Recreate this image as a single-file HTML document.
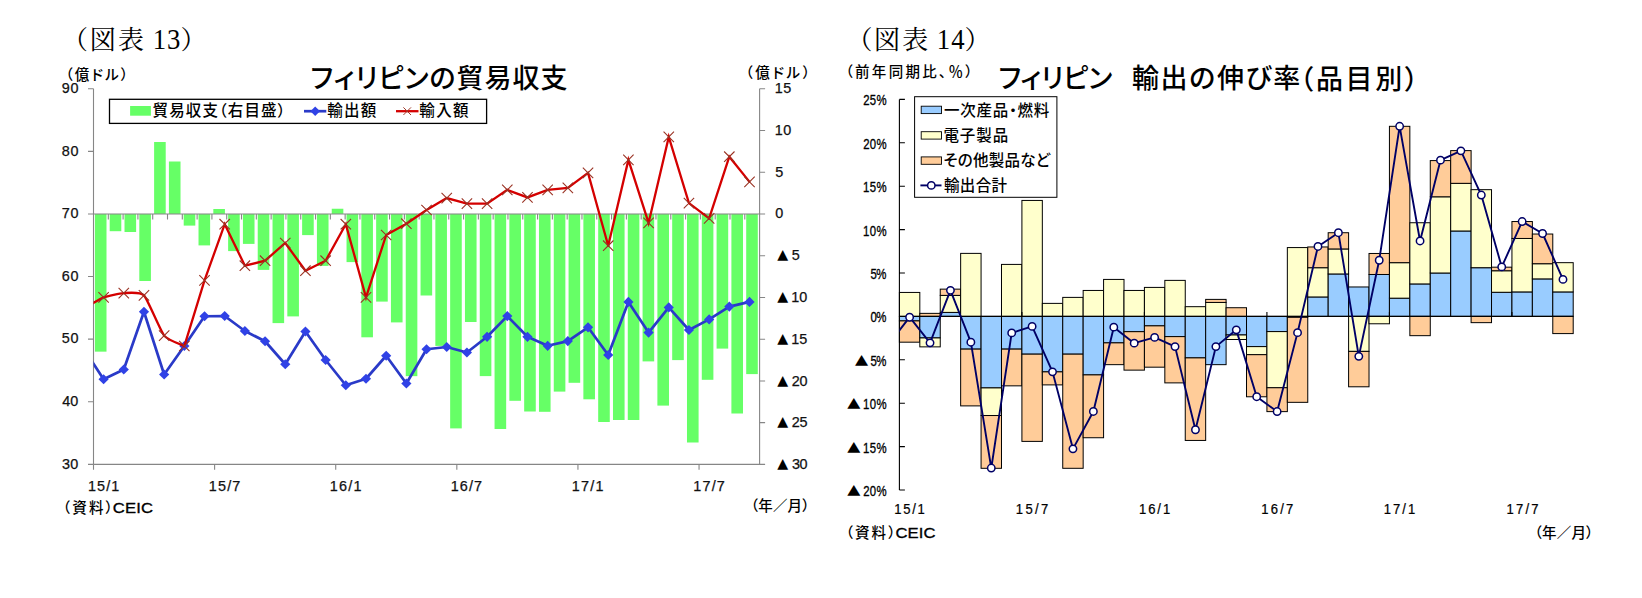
<!DOCTYPE html>
<html lang="ja"><head><meta charset="utf-8"><title>フィリピンの貿易収支・輸出の伸び率</title>
<style>html,body{margin:0;padding:0;background:#fff}body{width:1642px;height:598px;overflow:hidden}svg{display:block}text{white-space:pre}.p{font-feature-settings:"palt" 1}</style></head><body>
<svg width="1642" height="598" viewBox="0 0 1642 598">
<rect width="1642" height="598" fill="#fff"/>
<defs><clipPath id="lc"><rect x="93.5" y="80" width="666.1" height="390"/></clipPath></defs>
<g id="left-chart">
<g fill="#66ff66">
<rect x="94.9" y="213.95" width="11.6" height="137.7"/>
<rect x="109.7" y="213.95" width="11.6" height="17.25"/>
<rect x="124.51" y="213.95" width="11.6" height="18.05"/>
<rect x="139.31" y="213.95" width="11.6" height="67.05"/>
<rect x="154.11" y="142" width="11.6" height="71.95"/>
<rect x="168.91" y="161.5" width="11.6" height="52.45"/>
<rect x="183.71" y="213.95" width="11.6" height="11.65"/>
<rect x="198.52" y="213.95" width="11.6" height="31.45"/>
<rect x="213.32" y="209" width="11.6" height="4.95"/>
<rect x="228.12" y="213.95" width="11.6" height="37.15"/>
<rect x="242.92" y="213.95" width="11.6" height="29.95"/>
<rect x="257.73" y="213.95" width="11.6" height="55.95"/>
<rect x="272.53" y="213.95" width="11.6" height="109.15"/>
<rect x="287.33" y="213.95" width="11.6" height="102.45"/>
<rect x="302.13" y="213.95" width="11.6" height="21.15"/>
<rect x="316.93" y="213.95" width="11.6" height="51.95"/>
<rect x="331.74" y="208.75" width="11.6" height="5.2"/>
<rect x="346.54" y="213.95" width="11.6" height="48.15"/>
<rect x="361.34" y="213.95" width="11.6" height="123.35"/>
<rect x="376.14" y="213.95" width="11.6" height="87.65"/>
<rect x="390.95" y="213.95" width="11.6" height="108.45"/>
<rect x="405.75" y="213.95" width="11.6" height="162.2"/>
<rect x="420.55" y="213.95" width="11.6" height="81.55"/>
<rect x="435.35" y="213.95" width="11.6" height="131.95"/>
<rect x="450.15" y="213.95" width="11.6" height="214.45"/>
<rect x="464.96" y="213.95" width="11.6" height="108.05"/>
<rect x="479.76" y="213.95" width="11.6" height="162.15"/>
<rect x="494.56" y="213.95" width="11.6" height="215.05"/>
<rect x="509.36" y="213.95" width="11.6" height="186.85"/>
<rect x="524.17" y="213.95" width="11.6" height="197.55"/>
<rect x="538.97" y="213.95" width="11.6" height="197.85"/>
<rect x="553.77" y="213.95" width="11.6" height="177.65"/>
<rect x="568.57" y="213.95" width="11.6" height="168.85"/>
<rect x="583.37" y="213.95" width="11.6" height="185.35"/>
<rect x="598.18" y="213.95" width="11.6" height="208.05"/>
<rect x="612.98" y="213.95" width="11.6" height="206.05"/>
<rect x="627.78" y="213.95" width="11.6" height="206.05"/>
<rect x="642.58" y="213.95" width="11.6" height="147.45"/>
<rect x="657.39" y="213.95" width="11.6" height="191.65"/>
<rect x="672.19" y="213.95" width="11.6" height="146.15"/>
<rect x="686.99" y="213.95" width="11.6" height="228.55"/>
<rect x="701.79" y="213.95" width="11.6" height="165.85"/>
<rect x="716.59" y="213.95" width="11.6" height="134.65"/>
<rect x="731.4" y="213.95" width="11.6" height="199.55"/>
<rect x="746.2" y="213.95" width="11.6" height="160.15"/>
</g>
<g stroke="#868686" stroke-width="1.1" fill="none">
<path d="M93.5,88.75 V464.35"/>
<path d="M759.6,88.75 V464.35"/>
<path d="M93.5,464.35 H765.1"/>
<path d="M88,213.95 H765.1"/>
<path d="M88,88.75 H93.5M88,151.35 H93.5M88,276.55 H93.5M88,339.15 H93.5M88,401.75 H93.5M88,464.35 H93.5M759.6,88.75 H765.1M759.6,130.5 H765.1M759.6,172.3 H765.1M759.6,255.8 H765.1M759.6,297.5 H765.1M759.6,339.2 H765.1M759.6,381 H765.1M759.6,422.6 H765.1M88,464.35 H93.5M93.5,464.35 V469.85M214.61,464.35 V469.85M335.72,464.35 V469.85M456.83,464.35 V469.85M577.94,464.35 V469.85M699.05,464.35 V469.85M108.3,213.95 V219.45M123.1,213.95 V219.45M137.91,213.95 V219.45M152.71,213.95 V219.45M167.51,213.95 V219.45M182.31,213.95 V219.45M197.12,213.95 V219.45M211.92,213.95 V219.45M226.72,213.95 V219.45M241.52,213.95 V219.45M256.32,213.95 V219.45M271.13,213.95 V219.45M285.93,213.95 V219.45M300.73,213.95 V219.45M315.53,213.95 V219.45M330.34,213.95 V219.45M345.14,213.95 V219.45M359.94,213.95 V219.45M374.74,213.95 V219.45M389.54,213.95 V219.45M404.35,213.95 V219.45M419.15,213.95 V219.45M433.95,213.95 V219.45M448.75,213.95 V219.45M463.56,213.95 V219.45M478.36,213.95 V219.45M493.16,213.95 V219.45M507.96,213.95 V219.45M522.76,213.95 V219.45M537.57,213.95 V219.45M552.37,213.95 V219.45M567.17,213.95 V219.45M581.97,213.95 V219.45M596.78,213.95 V219.45M611.58,213.95 V219.45M626.38,213.95 V219.45M641.18,213.95 V219.45M655.98,213.95 V219.45M670.79,213.95 V219.45M685.59,213.95 V219.45M700.39,213.95 V219.45M715.19,213.95 V219.45M730,213.95 V219.45M744.8,213.95 V219.45"/>
</g>
<g clip-path="url(#lc)">
<path d="M83.41,348.25 L103.59,379.25 L123.78,369.5 L143.96,311.75 L164.15,374.5 L184.33,346 L204.52,316.25 L224.7,316 L244.89,331 L265.07,341.25 L285.26,364.25 L305.44,331.5 L325.63,360 L345.81,385.25 L366,378.75 L386.18,355.75 L406.37,383.5 L426.55,349.25 L446.73,347 L466.92,352.5 L487.1,336.8 L507.29,316.1 L527.47,336.8 L547.66,345.8 L567.84,341.1 L588.03,327.3 L608.21,355 L628.4,301.9 L648.58,332.6 L668.77,307.4 L688.95,330 L709.14,319.4 L729.32,306.6 L749.51,301.9" fill="none" stroke="#2a3ac8" stroke-width="2.7" stroke-linejoin="round"/>
<g fill="#3042e6">
<path d="M103.59,374.15 l5.1,5.1 l-5.1,5.1 l-5.1,-5.1z"/>
<path d="M123.78,364.4 l5.1,5.1 l-5.1,5.1 l-5.1,-5.1z"/>
<path d="M143.96,306.65 l5.1,5.1 l-5.1,5.1 l-5.1,-5.1z"/>
<path d="M164.15,369.4 l5.1,5.1 l-5.1,5.1 l-5.1,-5.1z"/>
<path d="M184.33,340.9 l5.1,5.1 l-5.1,5.1 l-5.1,-5.1z"/>
<path d="M204.52,311.15 l5.1,5.1 l-5.1,5.1 l-5.1,-5.1z"/>
<path d="M224.7,310.9 l5.1,5.1 l-5.1,5.1 l-5.1,-5.1z"/>
<path d="M244.89,325.9 l5.1,5.1 l-5.1,5.1 l-5.1,-5.1z"/>
<path d="M265.07,336.15 l5.1,5.1 l-5.1,5.1 l-5.1,-5.1z"/>
<path d="M285.26,359.15 l5.1,5.1 l-5.1,5.1 l-5.1,-5.1z"/>
<path d="M305.44,326.4 l5.1,5.1 l-5.1,5.1 l-5.1,-5.1z"/>
<path d="M325.63,354.9 l5.1,5.1 l-5.1,5.1 l-5.1,-5.1z"/>
<path d="M345.81,380.15 l5.1,5.1 l-5.1,5.1 l-5.1,-5.1z"/>
<path d="M366,373.65 l5.1,5.1 l-5.1,5.1 l-5.1,-5.1z"/>
<path d="M386.18,350.65 l5.1,5.1 l-5.1,5.1 l-5.1,-5.1z"/>
<path d="M406.37,378.4 l5.1,5.1 l-5.1,5.1 l-5.1,-5.1z"/>
<path d="M426.55,344.15 l5.1,5.1 l-5.1,5.1 l-5.1,-5.1z"/>
<path d="M446.73,341.9 l5.1,5.1 l-5.1,5.1 l-5.1,-5.1z"/>
<path d="M466.92,347.4 l5.1,5.1 l-5.1,5.1 l-5.1,-5.1z"/>
<path d="M487.1,331.7 l5.1,5.1 l-5.1,5.1 l-5.1,-5.1z"/>
<path d="M507.29,311 l5.1,5.1 l-5.1,5.1 l-5.1,-5.1z"/>
<path d="M527.47,331.7 l5.1,5.1 l-5.1,5.1 l-5.1,-5.1z"/>
<path d="M547.66,340.7 l5.1,5.1 l-5.1,5.1 l-5.1,-5.1z"/>
<path d="M567.84,336 l5.1,5.1 l-5.1,5.1 l-5.1,-5.1z"/>
<path d="M588.03,322.2 l5.1,5.1 l-5.1,5.1 l-5.1,-5.1z"/>
<path d="M608.21,349.9 l5.1,5.1 l-5.1,5.1 l-5.1,-5.1z"/>
<path d="M628.4,296.8 l5.1,5.1 l-5.1,5.1 l-5.1,-5.1z"/>
<path d="M648.58,327.5 l5.1,5.1 l-5.1,5.1 l-5.1,-5.1z"/>
<path d="M668.77,302.3 l5.1,5.1 l-5.1,5.1 l-5.1,-5.1z"/>
<path d="M688.95,324.9 l5.1,5.1 l-5.1,5.1 l-5.1,-5.1z"/>
<path d="M709.14,314.3 l5.1,5.1 l-5.1,5.1 l-5.1,-5.1z"/>
<path d="M729.32,301.5 l5.1,5.1 l-5.1,5.1 l-5.1,-5.1z"/>
<path d="M749.51,296.8 l5.1,5.1 l-5.1,5.1 l-5.1,-5.1z"/>
</g>
<path d="M83.41,308.8C85.24,307.76 99.92,298.83 103.59,297.4C107.26,295.97 120.11,293.28 123.78,293.1C127.45,292.92 140.29,291.54 143.96,295.4C147.63,299.26 160.48,331 164.15,335.6C167.82,340.2 182.5,345.05 184.33,346 L204.52,280.4 L224.7,224.2 L244.89,265.7 L265.07,260.7 L285.26,243 L305.44,270.7 L325.63,260.7 L345.81,224.2 L366,297.4 L386.18,235 L406.37,223.7 L426.55,210 L446.73,198.1 L466.92,203.6 L487.1,203.6 L507.29,189.9 L527.47,197.4 L547.66,189.9 L567.84,187.9 L588.03,172.9 L608.21,245.7 L628.4,159.9 L648.58,222.9 L668.77,136.9 L688.95,203.1 L709.14,218.4 L729.32,156.7 L749.51,181.9" fill="none" stroke="#d40000" stroke-width="2.3" stroke-linejoin="miter"/>
<path d="M98.39,292.2 l10.4,10.4M108.79,292.2 l-10.4,10.4M118.58,287.9 l10.4,10.4M128.98,287.9 l-10.4,10.4M138.76,290.2 l10.4,10.4M149.16,290.2 l-10.4,10.4M158.95,330.4 l10.4,10.4M169.35,330.4 l-10.4,10.4M179.13,340.8 l10.4,10.4M189.53,340.8 l-10.4,10.4M199.32,275.2 l10.4,10.4M209.72,275.2 l-10.4,10.4M219.5,219 l10.4,10.4M229.9,219 l-10.4,10.4M239.69,260.5 l10.4,10.4M250.09,260.5 l-10.4,10.4M259.87,255.5 l10.4,10.4M270.27,255.5 l-10.4,10.4M280.06,237.8 l10.4,10.4M290.46,237.8 l-10.4,10.4M300.24,265.5 l10.4,10.4M310.64,265.5 l-10.4,10.4M320.43,255.5 l10.4,10.4M330.83,255.5 l-10.4,10.4M340.61,219 l10.4,10.4M351.01,219 l-10.4,10.4M360.8,292.2 l10.4,10.4M371.2,292.2 l-10.4,10.4M380.98,229.8 l10.4,10.4M391.38,229.8 l-10.4,10.4M401.17,218.5 l10.4,10.4M411.57,218.5 l-10.4,10.4M421.35,204.8 l10.4,10.4M431.75,204.8 l-10.4,10.4M441.53,192.9 l10.4,10.4M451.93,192.9 l-10.4,10.4M461.72,198.4 l10.4,10.4M472.12,198.4 l-10.4,10.4M481.9,198.4 l10.4,10.4M492.3,198.4 l-10.4,10.4M502.09,184.7 l10.4,10.4M512.49,184.7 l-10.4,10.4M522.27,192.2 l10.4,10.4M532.67,192.2 l-10.4,10.4M542.46,184.7 l10.4,10.4M552.86,184.7 l-10.4,10.4M562.64,182.7 l10.4,10.4M573.04,182.7 l-10.4,10.4M582.83,167.7 l10.4,10.4M593.23,167.7 l-10.4,10.4M603.01,240.5 l10.4,10.4M613.41,240.5 l-10.4,10.4M623.2,154.7 l10.4,10.4M633.6,154.7 l-10.4,10.4M643.38,217.7 l10.4,10.4M653.78,217.7 l-10.4,10.4M663.57,131.7 l10.4,10.4M673.97,131.7 l-10.4,10.4M683.75,197.9 l10.4,10.4M694.15,197.9 l-10.4,10.4M703.94,213.2 l10.4,10.4M714.34,213.2 l-10.4,10.4M724.12,151.5 l10.4,10.4M734.52,151.5 l-10.4,10.4M744.31,176.7 l10.4,10.4M754.71,176.7 l-10.4,10.4" fill="none" stroke="#9a3324" stroke-width="1.1"/>
</g>
<rect x="109.5" y="99.3" width="377.1" height="24.1" fill="#fff" stroke="#000" stroke-width="1.3"/>
<rect x="130.1" y="106" width="20.8" height="9.7" fill="#66ff66"/>
<path d="M304,111.2 H326.3" stroke="#2a3ac8" stroke-width="2.7"/>
<path d="M315.2,106.4 l4.8,4.8 l-4.8,4.8 l-4.8,-4.8z" fill="#3042e6"/>
<path d="M396,111.2 H418.5" stroke="#d40000" stroke-width="2.3"/>
<path d="M403.4,107.4 l7.6,7.6 M411,107.4 l-7.6,7.6" stroke="#a03a2a" stroke-width="1" fill="none"/>
</g>
<defs><clipPath id="rc"><rect x="899.4" y="90" width="700" height="410"/></clipPath></defs>
<g id="right-chart">
<g stroke="#000" stroke-width="1">
<rect x="899.4" y="316.4" width="20.42" height="4.51" fill="#99ccff"/>
<rect x="899.4" y="292.44" width="20.42" height="23.96" fill="#ffffcc"/>
<rect x="899.4" y="320.91" width="20.42" height="21.27" fill="#ffcc99"/>
<rect x="919.82" y="316.4" width="20.42" height="21.53" fill="#99ccff"/>
<rect x="919.82" y="337.93" width="20.42" height="8.94" fill="#ffffcc"/>
<rect x="919.82" y="313.36" width="20.42" height="3.04" fill="#ffcc99"/>
<rect x="940.24" y="312.41" width="20.42" height="3.99" fill="#99ccff"/>
<rect x="940.24" y="295.39" width="20.42" height="17.01" fill="#ffffcc"/>
<rect x="940.24" y="289.14" width="20.42" height="6.25" fill="#ffcc99"/>
<rect x="960.65" y="316.4" width="20.42" height="32.72" fill="#99ccff"/>
<rect x="960.65" y="253.38" width="20.42" height="63.02" fill="#ffffcc"/>
<rect x="960.65" y="349.12" width="20.42" height="56.77" fill="#ffcc99"/>
<rect x="981.07" y="316.4" width="20.42" height="71.52" fill="#99ccff"/>
<rect x="981.07" y="387.92" width="20.42" height="27.6" fill="#ffffcc"/>
<rect x="981.07" y="415.53" width="20.42" height="52.77" fill="#ffcc99"/>
<rect x="1001.49" y="316.4" width="20.42" height="32.72" fill="#99ccff"/>
<rect x="1001.49" y="264.41" width="20.42" height="51.99" fill="#ffffcc"/>
<rect x="1001.49" y="349.12" width="20.42" height="36.72" fill="#ffcc99"/>
<rect x="1021.91" y="316.4" width="20.42" height="37.76" fill="#99ccff"/>
<rect x="1021.91" y="200.44" width="20.42" height="115.96" fill="#ffffcc"/>
<rect x="1021.91" y="354.16" width="20.42" height="87.23" fill="#ffcc99"/>
<rect x="1042.33" y="316.4" width="20.42" height="55.47" fill="#99ccff"/>
<rect x="1042.33" y="303.38" width="20.42" height="13.02" fill="#ffffcc"/>
<rect x="1042.33" y="371.87" width="20.42" height="13.02" fill="#ffcc99"/>
<rect x="1062.74" y="316.4" width="20.42" height="37.76" fill="#99ccff"/>
<rect x="1062.74" y="297.39" width="20.42" height="19.01" fill="#ffffcc"/>
<rect x="1062.74" y="354.16" width="20.42" height="114.14" fill="#ffcc99"/>
<rect x="1083.16" y="316.4" width="20.42" height="58.5" fill="#99ccff"/>
<rect x="1083.16" y="290.45" width="20.42" height="25.95" fill="#ffffcc"/>
<rect x="1083.16" y="374.9" width="20.42" height="62.84" fill="#ffcc99"/>
<rect x="1103.58" y="316.4" width="20.42" height="26.47" fill="#99ccff"/>
<rect x="1103.58" y="279.42" width="20.42" height="36.98" fill="#ffffcc"/>
<rect x="1103.58" y="342.87" width="20.42" height="21.79" fill="#ffcc99"/>
<rect x="1124" y="316.4" width="20.42" height="15.28" fill="#99ccff"/>
<rect x="1124" y="290.45" width="20.42" height="25.95" fill="#ffffcc"/>
<rect x="1124" y="331.68" width="20.42" height="38.45" fill="#ffcc99"/>
<rect x="1144.42" y="316.4" width="20.42" height="9.46" fill="#99ccff"/>
<rect x="1144.42" y="287.41" width="20.42" height="28.99" fill="#ffffcc"/>
<rect x="1144.42" y="325.86" width="20.42" height="41.32" fill="#ffcc99"/>
<rect x="1164.83" y="316.4" width="20.42" height="20.22" fill="#99ccff"/>
<rect x="1164.83" y="280.38" width="20.42" height="36.02" fill="#ffffcc"/>
<rect x="1164.83" y="336.62" width="20.42" height="46.26" fill="#ffcc99"/>
<rect x="1185.25" y="316.4" width="20.42" height="41.49" fill="#99ccff"/>
<rect x="1185.25" y="306.68" width="20.42" height="9.72" fill="#ffffcc"/>
<rect x="1185.25" y="357.89" width="20.42" height="82.55" fill="#ffcc99"/>
<rect x="1205.67" y="316.4" width="20.42" height="48.26" fill="#99ccff"/>
<rect x="1205.67" y="302.43" width="20.42" height="13.97" fill="#ffffcc"/>
<rect x="1205.67" y="299.39" width="20.42" height="3.04" fill="#ffcc99"/>
<rect x="1226.09" y="316.4" width="20.42" height="18.58" fill="#99ccff"/>
<rect x="1226.09" y="334.98" width="20.42" height="4.51" fill="#ffffcc"/>
<rect x="1226.09" y="307.72" width="20.42" height="8.68" fill="#ffcc99"/>
<rect x="1246.51" y="316.4" width="20.42" height="30.21" fill="#99ccff"/>
<rect x="1246.51" y="346.61" width="20.42" height="8.07" fill="#ffffcc"/>
<rect x="1246.51" y="354.68" width="20.42" height="42.1" fill="#ffcc99"/>
<rect x="1266.92" y="316.4" width="20.42" height="15.19" fill="#99ccff"/>
<rect x="1266.92" y="331.59" width="20.42" height="56.16" fill="#ffffcc"/>
<rect x="1266.92" y="387.75" width="20.42" height="23.87" fill="#ffcc99"/>
<rect x="1287.34" y="316.4" width="20.42" height="0.87" fill="#99ccff"/>
<rect x="1287.34" y="247.57" width="20.42" height="68.83" fill="#ffffcc"/>
<rect x="1287.34" y="317.27" width="20.42" height="85.06" fill="#ffcc99"/>
<rect x="1307.76" y="296.96" width="20.42" height="19.44" fill="#99ccff"/>
<rect x="1307.76" y="267.71" width="20.42" height="29.25" fill="#ffffcc"/>
<rect x="1307.76" y="246.96" width="20.42" height="20.75" fill="#ffcc99"/>
<rect x="1328.18" y="273.95" width="20.42" height="42.45" fill="#99ccff"/>
<rect x="1328.18" y="248.96" width="20.42" height="25" fill="#ffffcc"/>
<rect x="1328.18" y="232.72" width="20.42" height="16.23" fill="#ffcc99"/>
<rect x="1348.6" y="286.97" width="20.42" height="29.43" fill="#99ccff"/>
<rect x="1348.6" y="316.4" width="20.42" height="34.98" fill="#ffffcc"/>
<rect x="1348.6" y="351.38" width="20.42" height="35.41" fill="#ffcc99"/>
<rect x="1369.01" y="274.48" width="20.42" height="41.92" fill="#99ccff"/>
<rect x="1369.01" y="316.4" width="20.42" height="7.38" fill="#ffffcc"/>
<rect x="1369.01" y="253.47" width="20.42" height="21.01" fill="#ffcc99"/>
<rect x="1389.43" y="298.17" width="20.42" height="18.23" fill="#99ccff"/>
<rect x="1389.43" y="262.67" width="20.42" height="35.5" fill="#ffffcc"/>
<rect x="1389.43" y="126.31" width="20.42" height="136.36" fill="#ffcc99"/>
<rect x="1409.85" y="283.94" width="20.42" height="32.46" fill="#99ccff"/>
<rect x="1409.85" y="222.74" width="20.42" height="61.19" fill="#ffffcc"/>
<rect x="1409.85" y="316.4" width="20.42" height="19.27" fill="#ffcc99"/>
<rect x="1430.27" y="273" width="20.42" height="43.4" fill="#99ccff"/>
<rect x="1430.27" y="196.79" width="20.42" height="76.21" fill="#ffffcc"/>
<rect x="1430.27" y="160.59" width="20.42" height="36.2" fill="#ffcc99"/>
<rect x="1450.69" y="230.99" width="20.42" height="85.41" fill="#99ccff"/>
<rect x="1450.69" y="183.34" width="20.42" height="47.65" fill="#ffffcc"/>
<rect x="1450.69" y="150.61" width="20.42" height="32.72" fill="#ffcc99"/>
<rect x="1471.1" y="267.71" width="20.42" height="48.69" fill="#99ccff"/>
<rect x="1471.1" y="189.67" width="20.42" height="78.03" fill="#ffffcc"/>
<rect x="1471.1" y="316.4" width="20.42" height="6.25" fill="#ffcc99"/>
<rect x="1491.52" y="292.27" width="20.42" height="24.13" fill="#99ccff"/>
<rect x="1491.52" y="270.74" width="20.42" height="21.53" fill="#ffffcc"/>
<rect x="1491.52" y="267.18" width="20.42" height="3.56" fill="#ffcc99"/>
<rect x="1511.94" y="291.92" width="20.42" height="24.48" fill="#99ccff"/>
<rect x="1511.94" y="238.45" width="20.42" height="53.47" fill="#ffffcc"/>
<rect x="1511.94" y="221.53" width="20.42" height="16.93" fill="#ffcc99"/>
<rect x="1532.36" y="278.9" width="20.42" height="37.5" fill="#99ccff"/>
<rect x="1532.36" y="263.71" width="20.42" height="15.19" fill="#ffffcc"/>
<rect x="1532.36" y="234.03" width="20.42" height="29.69" fill="#ffcc99"/>
<rect x="1552.78" y="291.92" width="20.42" height="24.48" fill="#99ccff"/>
<rect x="1552.78" y="262.67" width="20.42" height="29.25" fill="#ffffcc"/>
<rect x="1552.78" y="316.4" width="20.42" height="17.19" fill="#ffcc99"/>
</g>
<path d="M899.4,99.4 V490M899.4,99.4 H904.9M899.4,142.8 H904.9M899.4,186.2 H904.9M899.4,229.6 H904.9M899.4,273 H904.9M899.4,316.4 H904.9M899.4,359.8 H904.9M899.4,403.2 H904.9M899.4,446.6 H904.9M899.4,490 H904.9M899.4,316.4 H1573.19M1021.91,316.4 V311.9M1144.42,316.4 V311.9M1266.92,316.4 V311.9M1389.43,316.4 V311.9M1511.94,316.4 V311.9" fill="none" stroke="#000" stroke-width="1.1"/>
<g clip-path="url(#rc)">
<path d="M889.19,343.57 L909.61,317.18 L930.03,342.87 L950.44,290.36 L970.86,342.18 L991.28,468.04 L1011.7,332.89 L1032.12,326.38 L1052.53,371.87 L1072.95,448.86 L1093.37,411.45 L1113.79,327.16 L1134.21,343.13 L1154.62,337.41 L1175.04,346.61 L1195.46,429.76 L1215.88,346.61 L1236.3,329.85 L1256.71,396.69 L1277.13,411.53 L1297.55,332.63 L1317.97,246.44 L1338.39,232.72 L1358.8,356.33 L1379.22,260.24 L1399.64,126.31 L1420.06,240.97 L1440.48,160.16 L1460.89,150.87 L1481.31,195.05 L1501.73,266.92 L1522.15,221.53 L1542.57,233.51 L1562.98,279.42" fill="none" stroke="#000066" stroke-width="1.9" stroke-linejoin="round"/>
<g fill="#fff" stroke="#000066" stroke-width="1.5">
<circle cx="909.61" cy="317.18" r="3.7"/>
<circle cx="930.03" cy="342.87" r="3.7"/>
<circle cx="950.44" cy="290.36" r="3.7"/>
<circle cx="970.86" cy="342.18" r="3.7"/>
<circle cx="991.28" cy="468.04" r="3.7"/>
<circle cx="1011.7" cy="332.89" r="3.7"/>
<circle cx="1032.12" cy="326.38" r="3.7"/>
<circle cx="1052.53" cy="371.87" r="3.7"/>
<circle cx="1072.95" cy="448.86" r="3.7"/>
<circle cx="1093.37" cy="411.45" r="3.7"/>
<circle cx="1113.79" cy="327.16" r="3.7"/>
<circle cx="1134.21" cy="343.13" r="3.7"/>
<circle cx="1154.62" cy="337.41" r="3.7"/>
<circle cx="1175.04" cy="346.61" r="3.7"/>
<circle cx="1195.46" cy="429.76" r="3.7"/>
<circle cx="1215.88" cy="346.61" r="3.7"/>
<circle cx="1236.3" cy="329.85" r="3.7"/>
<circle cx="1256.71" cy="396.69" r="3.7"/>
<circle cx="1277.13" cy="411.53" r="3.7"/>
<circle cx="1297.55" cy="332.63" r="3.7"/>
<circle cx="1317.97" cy="246.44" r="3.7"/>
<circle cx="1338.39" cy="232.72" r="3.7"/>
<circle cx="1358.8" cy="356.33" r="3.7"/>
<circle cx="1379.22" cy="260.24" r="3.7"/>
<circle cx="1399.64" cy="126.31" r="3.7"/>
<circle cx="1420.06" cy="240.97" r="3.7"/>
<circle cx="1440.48" cy="160.16" r="3.7"/>
<circle cx="1460.89" cy="150.87" r="3.7"/>
<circle cx="1481.31" cy="195.05" r="3.7"/>
<circle cx="1501.73" cy="266.92" r="3.7"/>
<circle cx="1522.15" cy="221.53" r="3.7"/>
<circle cx="1542.57" cy="233.51" r="3.7"/>
<circle cx="1562.98" cy="279.42" r="3.7"/>
</g></g>
<rect x="914.6" y="96.7" width="142.3" height="100.6" fill="#fff" stroke="#000" stroke-width="1"/>
<rect x="921.2" y="106.2" width="20.3" height="7.4" fill="#99ccff" stroke="#000" stroke-width="0.9"/>
<rect x="921.2" y="131.7" width="20.3" height="7.4" fill="#ffffcc" stroke="#000" stroke-width="0.9"/>
<rect x="921.2" y="156.9" width="20.3" height="7.4" fill="#ffcc99" stroke="#000" stroke-width="0.9"/>
<path d="M920.4,185.4 H941.5" stroke="#000066" stroke-width="1.9"/>
<circle cx="931.3" cy="185.4" r="3.7" fill="#fff" stroke="#000066" stroke-width="1.5"/>
</g>
<g id="labels">
<text x="74.5" y="48.55" font-size="26" font-family="'Liberation Serif','Noto Serif CJK SC',serif" fill="#000" class="p" textLength="69.57" lengthAdjust="spacing">（図表</text>
<text transform="translate(152.75 48.6) scale(0.92 1)" font-size="29" font-family="'Liberation Serif','Noto Serif CJK SC',serif" fill="#000" textLength="30.04" lengthAdjust="spacing">13</text>
<text x="181.05" y="48.55" font-size="26" font-family="'Liberation Serif','Noto Serif CJK SC',serif" fill="#000" class="p">）</text>
<text x="65.5" y="79.78" font-size="14.5" font-family="'Liberation Sans','Noto Sans CJK JP',sans-serif" fill="#000" font-weight="500" class="p" textLength="62.56" lengthAdjust="spacing">（億ドル）</text>
<text x="745.4" y="78.08" font-size="14.5" font-family="'Liberation Sans','Noto Sans CJK JP',sans-serif" fill="#000" font-weight="500" class="p" textLength="64.51" lengthAdjust="spacing">（億ドル）</text>
<text x="310.55" y="87.55" font-size="27" font-family="'Liberation Sans','Noto Sans CJK JP',sans-serif" fill="#000" font-weight="500" class="p" textLength="256.88" lengthAdjust="spacing">フィリピンの貿易収支</text>
<text x="61.7" y="93.09" font-size="14.4" font-family="'Liberation Sans','Noto Sans CJK JP',sans-serif" fill="#111" stroke="#111" stroke-width="0.25" class="p" textLength="16.74" lengthAdjust="spacing">90</text>
<text x="61.7" y="155.69" font-size="14.4" font-family="'Liberation Sans','Noto Sans CJK JP',sans-serif" fill="#111" stroke="#111" stroke-width="0.25" class="p" textLength="16.74" lengthAdjust="spacing">80</text>
<text x="61.7" y="218.29" font-size="14.4" font-family="'Liberation Sans','Noto Sans CJK JP',sans-serif" fill="#111" stroke="#111" stroke-width="0.25" class="p" textLength="16.74" lengthAdjust="spacing">70</text>
<text x="61.7" y="280.64" font-size="14.4" font-family="'Liberation Sans','Noto Sans CJK JP',sans-serif" fill="#111" stroke="#111" stroke-width="0.25" class="p" textLength="16.74" lengthAdjust="spacing">60</text>
<text x="61.7" y="343.49" font-size="14.4" font-family="'Liberation Sans','Noto Sans CJK JP',sans-serif" fill="#111" stroke="#111" stroke-width="0.25" class="p" textLength="16.74" lengthAdjust="spacing">50</text>
<text x="62.2" y="406.09" font-size="14.4" font-family="'Liberation Sans','Noto Sans CJK JP',sans-serif" fill="#111" stroke="#111" stroke-width="0.25" class="p" textLength="16.18" lengthAdjust="spacing">40</text>
<text x="61.95" y="468.69" font-size="14.4" font-family="'Liberation Sans','Noto Sans CJK JP',sans-serif" fill="#111" stroke="#111" stroke-width="0.25" class="p" textLength="16.38" lengthAdjust="spacing">30</text>
<text x="774.8" y="93.19" font-size="14.4" font-family="'Liberation Sans','Noto Sans CJK JP',sans-serif" fill="#111" stroke="#111" stroke-width="0.25" class="p" textLength="16.58" lengthAdjust="spacing">15</text>
<text x="774.8" y="134.94" font-size="14.4" font-family="'Liberation Sans','Noto Sans CJK JP',sans-serif" fill="#111" stroke="#111" stroke-width="0.25" class="p" textLength="16.54" lengthAdjust="spacing">10</text>
<text x="775.3" y="176.74" font-size="14.4" font-family="'Liberation Sans','Noto Sans CJK JP',sans-serif" fill="#111" stroke="#111" stroke-width="0.25" class="p">5</text>
<text x="775.3" y="218.44" font-size="14.4" font-family="'Liberation Sans','Noto Sans CJK JP',sans-serif" fill="#111" stroke="#111" stroke-width="0.25" class="p">0</text>
<text x="777.2" y="259.27" font-size="14.2" font-family="'DejaVu Sans',sans-serif" fill="#000">▲</text>
<text x="791.7" y="260.09" font-size="14.4" font-family="'Liberation Sans','Noto Sans CJK JP',sans-serif" fill="#111" stroke="#111" stroke-width="0.25" class="p">5</text>
<text x="777.2" y="301.22" font-size="14.2" font-family="'DejaVu Sans',sans-serif" fill="#000">▲</text>
<text x="791.2" y="302.04" font-size="14.4" font-family="'Liberation Sans','Noto Sans CJK JP',sans-serif" fill="#111" stroke="#111" stroke-width="0.25" class="p" textLength="16.18" lengthAdjust="spacing">10</text>
<text x="777.2" y="342.92" font-size="14.2" font-family="'DejaVu Sans',sans-serif" fill="#000">▲</text>
<text x="791.2" y="343.74" font-size="14.4" font-family="'Liberation Sans','Noto Sans CJK JP',sans-serif" fill="#111" stroke="#111" stroke-width="0.25" class="p" textLength="16.18" lengthAdjust="spacing">15</text>
<text x="777.2" y="384.72" font-size="14.2" font-family="'DejaVu Sans',sans-serif" fill="#000">▲</text>
<text x="791.7" y="385.54" font-size="14.4" font-family="'Liberation Sans','Noto Sans CJK JP',sans-serif" fill="#111" stroke="#111" stroke-width="0.25" class="p" textLength="15.78" lengthAdjust="spacing">20</text>
<text x="777.2" y="426.07" font-size="14.2" font-family="'DejaVu Sans',sans-serif" fill="#000">▲</text>
<text x="791.7" y="426.89" font-size="14.4" font-family="'Liberation Sans','Noto Sans CJK JP',sans-serif" fill="#111" stroke="#111" stroke-width="0.25" class="p" textLength="15.78" lengthAdjust="spacing">25</text>
<text x="777.2" y="467.82" font-size="14.2" font-family="'DejaVu Sans',sans-serif" fill="#000">▲</text>
<text x="791.95" y="468.64" font-size="14.4" font-family="'Liberation Sans','Noto Sans CJK JP',sans-serif" fill="#111" stroke="#111" stroke-width="0.25" class="p" textLength="15.58" lengthAdjust="spacing">30</text>
<text x="88" y="491.19" font-size="14.4" font-family="'Liberation Sans','Noto Sans CJK JP',sans-serif" fill="#111" stroke="#111" stroke-width="0.25" class="p" textLength="31.22" lengthAdjust="spacing">15/1</text>
<text x="208.8" y="491.19" font-size="14.4" font-family="'Liberation Sans','Noto Sans CJK JP',sans-serif" fill="#111" stroke="#111" stroke-width="0.25" class="p" textLength="31.52" lengthAdjust="spacing">15/7</text>
<text x="329.65" y="491.19" font-size="14.4" font-family="'Liberation Sans','Noto Sans CJK JP',sans-serif" fill="#111" stroke="#111" stroke-width="0.25" class="p" textLength="31.92" lengthAdjust="spacing">16/1</text>
<text x="450.7" y="491.19" font-size="14.4" font-family="'Liberation Sans','Noto Sans CJK JP',sans-serif" fill="#111" stroke="#111" stroke-width="0.25" class="p" textLength="31.42" lengthAdjust="spacing">16/7</text>
<text x="571.8" y="491.19" font-size="14.4" font-family="'Liberation Sans','Noto Sans CJK JP',sans-serif" fill="#111" stroke="#111" stroke-width="0.25" class="p" textLength="31.72" lengthAdjust="spacing">17/1</text>
<text x="693.15" y="491.19" font-size="14.4" font-family="'Liberation Sans','Noto Sans CJK JP',sans-serif" fill="#111" stroke="#111" stroke-width="0.25" class="p" textLength="31.72" lengthAdjust="spacing">17/7</text>
<text x="62.7" y="513.27" font-size="14.5" font-family="'Liberation Sans','Noto Sans CJK JP',sans-serif" fill="#000" font-weight="500" class="p" textLength="50.15" lengthAdjust="spacing">（資料）</text>
<text transform="translate(112.85 513.48) scale(1.15 1)" font-size="14.5" font-family="'Liberation Sans','Noto Sans CJK JP',sans-serif" fill="#000" stroke="#000" stroke-width="0.3" class="p" textLength="34.87" lengthAdjust="spacing">CEIC</text>
<text x="750.75" y="511.43" font-size="14.5" font-family="'Liberation Sans','Noto Sans CJK JP',sans-serif" fill="#000" font-weight="500" class="p" textLength="58.75" lengthAdjust="spacing">（年／月）</text>
<text x="152.6" y="116.12" font-size="15.5" font-family="'Liberation Sans','Noto Sans CJK JP',sans-serif" fill="#000" font-weight="500" class="p" textLength="132.77" lengthAdjust="spacing">貿易収支（右目盛）</text>
<text x="327.3" y="116.12" font-size="15.5" font-family="'Liberation Sans','Noto Sans CJK JP',sans-serif" fill="#000" font-weight="500" class="p" textLength="48.87" lengthAdjust="spacing">輸出額</text>
<text x="419.2" y="116.12" font-size="15.5" font-family="'Liberation Sans','Noto Sans CJK JP',sans-serif" fill="#000" font-weight="500" class="p" textLength="49.42" lengthAdjust="spacing">輸入額</text>
<text x="859" y="48.55" font-size="26" font-family="'Liberation Serif','Noto Serif CJK SC',serif" fill="#000" class="p" textLength="69.17" lengthAdjust="spacing">（図表</text>
<text transform="translate(936.75 48.6) scale(0.92 1)" font-size="29" font-family="'Liberation Serif','Noto Serif CJK SC',serif" fill="#000" textLength="30.21" lengthAdjust="spacing">14</text>
<text x="965.05" y="48.55" font-size="26" font-family="'Liberation Serif','Noto Serif CJK SC',serif" fill="#000" class="p">）</text>
<text x="845.5" y="77.48" font-size="14.5" font-family="'Liberation Sans','Noto Sans CJK JP',sans-serif" fill="#000" font-weight="500" class="p" textLength="127.1" lengthAdjust="spacing">（前年同期比、％）</text>
<text x="998.55" y="88.1" font-size="27" font-family="'Liberation Sans','Noto Sans CJK JP',sans-serif" fill="#000" font-weight="500" class="p" textLength="140.46" lengthAdjust="spacing">フィリピン　</text>
<text x="1131.95" y="88.35" font-size="27" font-family="'Liberation Sans','Noto Sans CJK JP',sans-serif" fill="#000" font-weight="500" class="p" textLength="168.39" lengthAdjust="spacing">輸出の伸び率</text>
<text x="1299.75" y="88.85" font-size="27" font-family="'Liberation Sans','Noto Sans CJK JP',sans-serif" fill="#000" font-weight="500" class="p" textLength="118.6" lengthAdjust="spacing">（品目別）</text>
<text transform="translate(863.15 105.45) scale(0.76 1)" font-size="15" font-family="'Liberation Sans','Noto Sans CJK JP',sans-serif" fill="#000" stroke="#000" stroke-width="0.35" class="p" textLength="30.87" lengthAdjust="spacing">25%</text>
<text transform="translate(863.15 148.85) scale(0.76 1)" font-size="15" font-family="'Liberation Sans','Noto Sans CJK JP',sans-serif" fill="#000" stroke="#000" stroke-width="0.35" class="p" textLength="30.87" lengthAdjust="spacing">20%</text>
<text transform="translate(862.9 192.25) scale(0.76 1)" font-size="15" font-family="'Liberation Sans','Noto Sans CJK JP',sans-serif" fill="#000" stroke="#000" stroke-width="0.35" class="p" textLength="31.2" lengthAdjust="spacing">15%</text>
<text transform="translate(862.9 235.65) scale(0.76 1)" font-size="15" font-family="'Liberation Sans','Noto Sans CJK JP',sans-serif" fill="#000" stroke="#000" stroke-width="0.35" class="p" textLength="31.2" lengthAdjust="spacing">10%</text>
<text transform="translate(870.6 278.8) scale(0.76 1)" font-size="15" font-family="'Liberation Sans','Noto Sans CJK JP',sans-serif" fill="#000" stroke="#000" stroke-width="0.35" class="p" textLength="20.78" lengthAdjust="spacing">5%</text>
<text transform="translate(870.6 322.45) scale(0.76 1)" font-size="15" font-family="'Liberation Sans','Noto Sans CJK JP',sans-serif" fill="#000" stroke="#000" stroke-width="0.35" class="p" textLength="20.78" lengthAdjust="spacing">0%</text>
<text transform="translate(870.6 365.6) scale(0.76 1)" font-size="15" font-family="'Liberation Sans','Noto Sans CJK JP',sans-serif" fill="#000" stroke="#000" stroke-width="0.35" class="p" textLength="20.78" lengthAdjust="spacing">5%</text>
<text transform="translate(854.9 363.57) scale(1.2 1)" font-size="14.2" font-family="'DejaVu Sans',sans-serif" fill="#000">▲</text>
<text transform="translate(862.9 409.25) scale(0.76 1)" font-size="15" font-family="'Liberation Sans','Noto Sans CJK JP',sans-serif" fill="#000" stroke="#000" stroke-width="0.35" class="p" textLength="31.2" lengthAdjust="spacing">10%</text>
<text transform="translate(847.2 407.22) scale(1.2 1)" font-size="14.2" font-family="'DejaVu Sans',sans-serif" fill="#000">▲</text>
<text transform="translate(862.9 452.65) scale(0.76 1)" font-size="15" font-family="'Liberation Sans','Noto Sans CJK JP',sans-serif" fill="#000" stroke="#000" stroke-width="0.35" class="p" textLength="31.2" lengthAdjust="spacing">15%</text>
<text transform="translate(847.2 450.62) scale(1.2 1)" font-size="14.2" font-family="'DejaVu Sans',sans-serif" fill="#000">▲</text>
<text transform="translate(863.15 496.05) scale(0.76 1)" font-size="15" font-family="'Liberation Sans','Noto Sans CJK JP',sans-serif" fill="#000" stroke="#000" stroke-width="0.35" class="p" textLength="30.87" lengthAdjust="spacing">20%</text>
<text transform="translate(847.2 493.77) scale(1.2 1)" font-size="14.2" font-family="'DejaVu Sans',sans-serif" fill="#000">▲</text>
<text transform="translate(894.25 514.02) scale(0.9 1)" font-size="14.5" font-family="'Liberation Sans','Noto Sans CJK JP',sans-serif" fill="#000" stroke="#000" stroke-width="0.25" class="p" textLength="33.92" lengthAdjust="spacing">15/1</text>
<text transform="translate(1015.8 514.02) scale(0.9 1)" font-size="14.5" font-family="'Liberation Sans','Noto Sans CJK JP',sans-serif" fill="#000" stroke="#000" stroke-width="0.25" class="p" textLength="35.98" lengthAdjust="spacing">15/7</text>
<text transform="translate(1138.95 514.02) scale(0.9 1)" font-size="14.5" font-family="'Liberation Sans','Noto Sans CJK JP',sans-serif" fill="#000" stroke="#000" stroke-width="0.25" class="p" textLength="34.76" lengthAdjust="spacing">16/1</text>
<text transform="translate(1261.25 514.02) scale(0.9 1)" font-size="14.5" font-family="'Liberation Sans','Noto Sans CJK JP',sans-serif" fill="#000" stroke="#000" stroke-width="0.25" class="p" textLength="35.59" lengthAdjust="spacing">16/7</text>
<text transform="translate(1383.8 514.02) scale(0.9 1)" font-size="14.5" font-family="'Liberation Sans','Noto Sans CJK JP',sans-serif" fill="#000" stroke="#000" stroke-width="0.25" class="p" textLength="34.87" lengthAdjust="spacing">17/1</text>
<text transform="translate(1506.45 514.02) scale(0.9 1)" font-size="14.5" font-family="'Liberation Sans','Noto Sans CJK JP',sans-serif" fill="#000" stroke="#000" stroke-width="0.25" class="p" textLength="35.65" lengthAdjust="spacing">17/7</text>
<text x="845.7" y="538.48" font-size="14.5" font-family="'Liberation Sans','Noto Sans CJK JP',sans-serif" fill="#000" font-weight="500" class="p" textLength="49.75" lengthAdjust="spacing">（資料）</text>
<text transform="translate(895.55 538.43) scale(1.15 1)" font-size="14.5" font-family="'Liberation Sans','Noto Sans CJK JP',sans-serif" fill="#000" stroke="#000" stroke-width="0.3" class="p" textLength="34.7" lengthAdjust="spacing">CEIC</text>
<text x="1534.5" y="538.43" font-size="14.5" font-family="'Liberation Sans','Noto Sans CJK JP',sans-serif" fill="#000" font-weight="500" class="p" textLength="58.9" lengthAdjust="spacing">（年／月）</text>
<text x="943.9" y="115.72" font-size="15.5" font-family="'Liberation Sans','Noto Sans CJK JP',sans-serif" fill="#000" font-weight="500" class="p" textLength="105.42" lengthAdjust="spacing">一次産品・燃料</text>
<text x="943.4" y="141.33" font-size="15.5" font-family="'Liberation Sans','Noto Sans CJK JP',sans-serif" fill="#000" font-weight="500" class="p" textLength="64.87" lengthAdjust="spacing">電子製品</text>
<text x="943.4" y="166.28" font-size="15.5" font-family="'Liberation Sans','Noto Sans CJK JP',sans-serif" fill="#000" font-weight="500" class="p" textLength="106.73" lengthAdjust="spacing">その他製品など</text>
<text x="943.9" y="191.12" font-size="15.5" font-family="'Liberation Sans','Noto Sans CJK JP',sans-serif" fill="#000" font-weight="500" class="p" textLength="63.12" lengthAdjust="spacing">輸出合計</text>
</g>
</svg></body></html>
